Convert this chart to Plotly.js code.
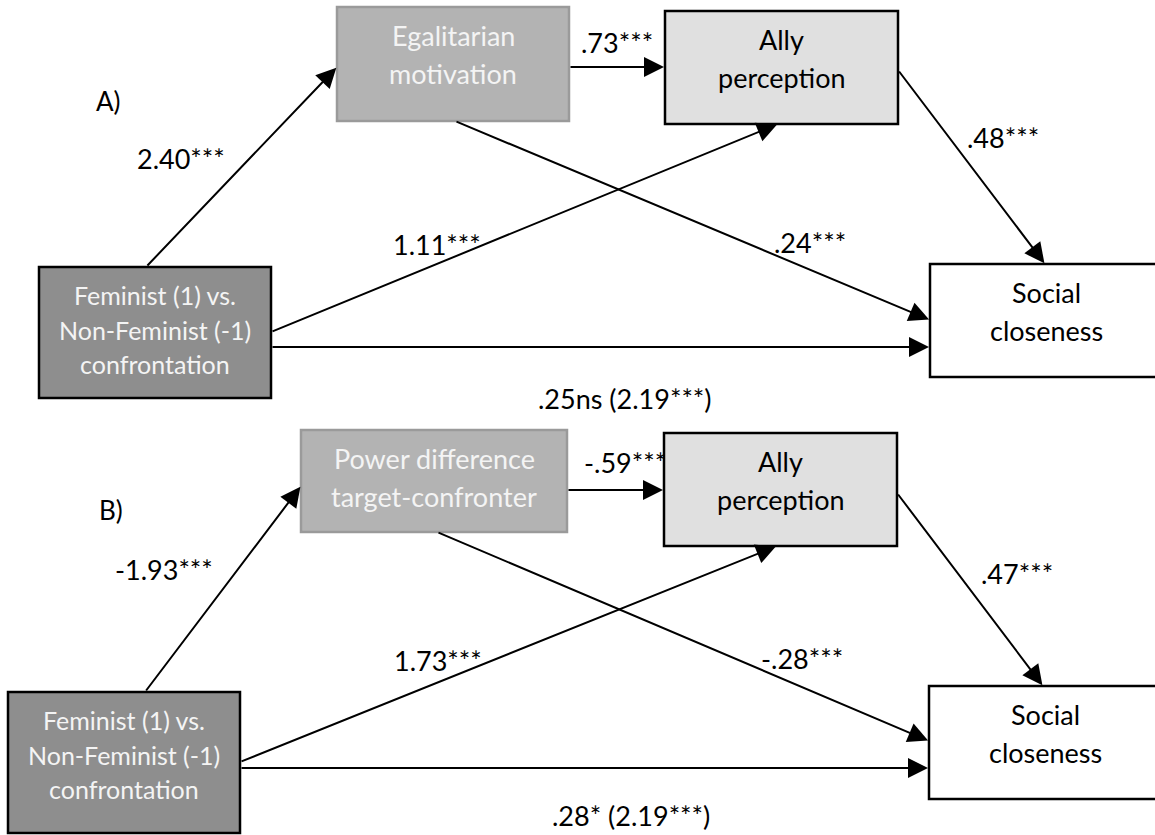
<!DOCTYPE html>
<html><head><meta charset="utf-8">
<script src="https://cdn.plot.ly/plotly-3.0.1.min.js"></script>
<style>html,body{margin:0;padding:0;background:#fff;overflow:hidden}</style>
</head><body><div id="chart" style="width:1155px;height:835px"></div>
<script>
// ---------------- data (labels and path coefficients) ----------------
const panelLabels    = ['A)', 'B)'];
const predictorLabel = ['Feminist (1) vs.', 'Non-Feminist (-1)', 'confrontation'];
const mediatorLabels = [['Egalitarian', 'motivation'], ['Power difference', 'target-confronter']];
const allyLabel      = ['Ally', 'perception'];
const outcomeLabel   = ['Social', 'closeness'];
const pathPredMed    = ['2.40***', '-1.93***'];          // predictor -> mediator
const pathMedAlly    = ['.73***', '-.59***'];            // mediator -> ally perception
const pathPredAlly   = ['1.11***', '1.73***'];           // predictor -> ally perception
const pathAllyOut    = ['.48***', '.47***'];             // ally perception -> social closeness
const pathMedOut     = ['.24***', '-.28***'];            // mediator -> social closeness
const pathDirect     = ['.25ns (2.19***)', '.28* (2.19***)']; // direct (total) effect

// ---------------- layout geometry (pixel space, y downwards) ----------------
const geom = [
  { boxes: { pred:[39,267,271,398], med:[337,7,569,121], ally:[665,11,898,124], out:[930,264,1162,377] },
    edges: { predMed:[146,267,337,67], medAlly:[569,67,665,67], medOut:[455,121,930,320],
             predAlly:[271,332,778,124], predOut:[271,347,930,347], allyOut:[898,70,1045,264] },
    labels:{ panel:[108,101], predMed:[181,158], medAlly:[617,42], predAlly:[437,244],
             allyOut:[1003,137], medOut:[810,242], direct:[625,398] } },
  { boxes: { pred:[8,692,240,833], med:[301,430,567,532], ally:[664,433,897,546], out:[929,686,1162,799] },
    edges: { predMed:[145,692,301,486], medAlly:[567,490,664,490], medOut:[437,532,929,741],
             predAlly:[240,762,777,546], predOut:[240,768,929,768], allyOut:[897,493,1043,686] },
    labels:{ panel:[111,510], predMed:[164,569], medAlly:[625,462], predAlly:[438,660],
             allyOut:[1017,573], medOut:[802,658], direct:[631,815] } }
];
const boxStyle = {
  pred: { fill:'#8e8e8e', line:'#000000', text:'#f4f4f4', size:25, spacing:34.5 },
  med:  { fill:'#b3b3b3', line:'#9a9a9a', text:'#f4f4f4', size:27, spacing:38 },
  ally: { fill:'#e0e0e0', line:'#000000', text:'#000000', size:27, spacing:38 },
  out:  { fill:'#ffffff', line:'#000000', text:'#000000', size:27, spacing:38 }
};
const FONT = 'Lato, "Open Sans", sans-serif';
const firstLineOffset = 28;

const shapes = [];
const annotations = [];

function addText(txt, x, y, size, color) {
  annotations.push({ x:x, y:y, xref:'x', yref:'y', text:txt, showarrow:false,
    xanchor:'center', yanchor:'middle', font:{ family:FONT, size:size, color:color } });
}
function addArrow(e) {
  annotations.push({ x:e[2], y:e[3], ax:e[0], ay:e[1], xref:'x', yref:'y', axref:'x', ayref:'y',
    text:'', showarrow:true, arrowhead:2, arrowsize:2, arrowwidth:2, arrowcolor:'#000', standoff:1 });
}

geom.forEach((g, p) => {
  const texts = { pred:predictorLabel, med:mediatorLabels[p], ally:allyLabel, out:outcomeLabel };
  Object.keys(g.boxes).forEach(k => {
    const b = g.boxes[k], s = boxStyle[k];
    shapes.push({ type:'rect', xref:'x', yref:'y', x0:b[0], y0:b[1], x1:b[2], y1:b[3],
      fillcolor:s.fill, line:{ color:s.line, width:2.5 }, layer:'below' });
    const cx = (b[0] + Math.min(b[2], 1162)) / 2;
    texts[k].forEach((t, i) => addText(t, cx, b[1] + firstLineOffset + i * s.spacing, s.size, s.text));
  });
  Object.keys(g.edges).forEach(k => addArrow(g.edges[k]));
  const L = g.labels;
  addText(panelLabels[p], L.panel[0], L.panel[1], 26, '#000');
  addText(pathPredMed[p], L.predMed[0], L.predMed[1], 27, '#000');
  addText(pathMedAlly[p], L.medAlly[0], L.medAlly[1], 27, '#000');
  addText(pathPredAlly[p], L.predAlly[0], L.predAlly[1], 27, '#000');
  addText(pathAllyOut[p], L.allyOut[0], L.allyOut[1], 27, '#000');
  addText(pathMedOut[p], L.medOut[0], L.medOut[1], 27, '#000');
  addText(pathDirect[p], L.direct[0], L.direct[1], 27, '#000');
});

const layout = {
  width:1155, height:835, margin:{ l:0, r:0, t:0, b:0 },
  paper_bgcolor:'#ffffff', plot_bgcolor:'#ffffff', showlegend:false,
  xaxis:{ range:[0,1155], visible:false, fixedrange:true },
  yaxis:{ range:[835,0], visible:false, fixedrange:true },
  shapes:shapes, annotations:annotations
};
const trace = { x:[0,1155], y:[0,835], mode:'markers', marker:{ opacity:0 }, hoverinfo:'skip', type:'scatter' };
Plotly.newPlot('chart', [trace], layout, { staticPlot:true, displayModeBar:false });
</script></body></html>
